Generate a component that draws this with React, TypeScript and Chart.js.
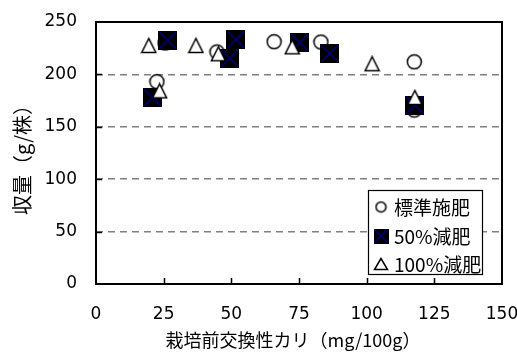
import { useEffect, useRef } from "react";
import { Chart, registerables } from "chart.js";

Chart.register(...registerables);

// Exchangeable potassium before cultivation (mg/100g) vs. yield (g/plant)
const seriesNames = ["標準施肥", "50%減肥", "100%減肥"];

const standardK = [22.5, 25.5, 44.7, 65.8, 83.1, 117.6, 117.6];
const standardYield = [193, 230, 221.4, 231.2, 230.9, 212, 166];

const halfK = [20.9, 26.5, 49.4, 51.7, 75.3, 86.3, 117.8];
const halfYield = [178, 232.6, 215.4, 233.3, 230.5, 220, 170.8];

const noneK = [19.5, 23.5, 36.9, 45.2, 72.5, 102, 117.8];
const noneYield = [227.6, 184.3, 227.6, 219.7, 226.3, 210.2, 178];

const xTickValues = [0, 25, 50, 75, 100, 125, 150];
const yTickValues = [0, 50, 100, 150, 200, 250];

const xTitle = "栽培前交換性カリ（mg/100g）";
const yTitle = "収量（g/株）";

const CJK = "'Noto Sans CJK JP', 'DejaVu Sans', sans-serif";
const NUM = "'DejaVu Sans', sans-serif";

function makeCanvas(w: number, h: number) {
  const c = document.createElement("canvas");
  c.width = w;
  c.height = h;
  return c;
}

function circleMarker(d: number) {
  const size = Math.ceil(d + 3);
  const c = makeCanvas(size, size);
  const g = c.getContext("2d")!;
  g.beginPath();
  g.arc(size / 2, size / 2, d / 2, 0, Math.PI * 2);
  g.fillStyle = "#ffffff";
  g.fill();
  g.lineWidth = 1.5;
  g.strokeStyle = "#000000";
  g.stroke();
  return c;
}

function squareMarker(s: number) {
  const c = makeCanvas(s, s);
  const g = c.getContext("2d")!;
  g.fillStyle = "#000000";
  g.fillRect(0, 0, s, s);
  g.strokeStyle = "#000080";
  g.lineWidth = 1.6;
  g.beginPath();
  g.moveTo(1, 1);
  g.lineTo(s - 1, s - 1);
  g.moveTo(s - 1, 1);
  g.lineTo(1, s - 1);
  g.stroke();
  return c;
}

function triangleMarker(w: number, h: number) {
  const c = makeCanvas(w + 3, h + 3);
  const g = c.getContext("2d")!;
  g.beginPath();
  g.moveTo((w + 3) / 2, 1.5);
  g.lineTo(1.5, h + 1.5);
  g.lineTo(w + 1.5, h + 1.5);
  g.closePath();
  g.fillStyle = "#ffffff";
  g.fill();
  g.lineWidth = 1.5;
  g.strokeStyle = "#000000";
  g.lineJoin = "miter";
  g.stroke();
  return c;
}

function toPoints(xs: number[], ys: number[]) {
  return xs.map((x, i) => ({ x, y: ys[i] }));
}

const decorPlugin = {
  id: "decor",
  beforeDatasetsDraw(chart: any) {
    const { ctx, chartArea: a, scales } = chart;
    ctx.save();
    ctx.strokeStyle = "#000000";
    ctx.lineWidth = 1.5;
    // inward tick marks
    ctx.beginPath();
    xTickValues.slice(1, -1).forEach((v) => {
      const px = Math.round(scales.x.getPixelForValue(v)) + 0.5;
      ctx.moveTo(px, a.bottom);
      ctx.lineTo(px, a.bottom - 6);
    });
    yTickValues.slice(1, -1).forEach((v) => {
      const py = Math.round(scales.y.getPixelForValue(v)) + 0.5;
      ctx.moveTo(a.left, py);
      ctx.lineTo(a.left + 6, py);
    });
    ctx.stroke();
    // plot frame
    ctx.lineWidth = 2;
    ctx.strokeRect(a.left, a.top, a.right - a.left, a.bottom - a.top);
    ctx.restore();
  },
  afterDatasetsDraw(chart: any) {
    const { ctx, chartArea: a } = chart;
    ctx.save();
    // axis titles
    ctx.fillStyle = "#000000";
    ctx.font = `18px ${CJK}`;
    ctx.textAlign = "center";
    ctx.textBaseline = "middle";
    ctx.fillText(xTitle, (a.left + a.right) / 2 - 6, 340);
    ctx.font = `20px ${CJK}`;
    ctx.translate(22, (a.top + a.bottom) / 2 + 2);
    ctx.rotate(-Math.PI / 2);
    ctx.fillText(yTitle, 0, 0);
    ctx.restore();

    // legend box
    const bx = a.right - 134;
    const by = a.bottom - 94;
    const bw = 114;
    const bh = 84;
    ctx.save();
    ctx.fillStyle = "#ffffff";
    ctx.fillRect(bx, by, bw, bh);
    ctx.strokeStyle = "#000000";
    ctx.lineWidth = 1.2;
    ctx.strokeRect(bx + 0.5, by + 0.5, bw, bh);
    const rows = [17, 46, 74];
    chart.data.datasets.forEach((ds: any, i: number) => {
      const img = ds.legendMarker as HTMLCanvasElement;
      const cy = by + rows[i];
      ctx.drawImage(img, bx + 13 - img.width / 2, cy - img.height / 2);
      ctx.fillStyle = "#000000";
      ctx.font = `19px ${CJK}`;
      ctx.textAlign = "left";
      ctx.textBaseline = "middle";
      ctx.fillText(ds.label, bx + 26, cy + 1);
    });
    ctx.restore();
  },
};

export default function App() {
  const ref = useRef<HTMLCanvasElement | null>(null);

  useEffect(() => {
    if (!ref.current) return;
    const chart = new Chart(ref.current, {
      type: "scatter",
      data: {
        datasets: [
          {
            label: seriesNames[0],
            data: toPoints(standardK, standardYield),
            pointStyle: circleMarker(14),
            pointRadius: 8,
            order: 3,
            legendMarker: circleMarker(10),
          } as any,
          {
            label: seriesNames[1],
            data: toPoints(halfK, halfYield),
            pointStyle: squareMarker(19),
            pointRadius: 8,
            order: 2,
            legendMarker: squareMarker(15),
          } as any,
          {
            label: seriesNames[2],
            data: toPoints(noneK, noneYield),
            pointStyle: triangleMarker(14, 14),
            pointRadius: 8,
            order: 1,
            legendMarker: triangleMarker(13, 11),
          } as any,
        ],
      },
      options: {
        responsive: false,
        animation: false,
        events: [],
        layout: { padding: { left: 0, top: 22, right: 15, bottom: 0 } },
        plugins: {
          legend: { display: false },
          tooltip: { enabled: false },
        },
        scales: {
          x: {
            type: "linear",
            min: 0,
            max: 150,
            afterFit: (s: any) => {
              s.height = 68;
              s.paddingLeft = 0;
              s.paddingRight = 0;
              s.paddingTop = 0;
              s.paddingBottom = 0;
            },
            afterBuildTicks: (s: any) => {
              s.ticks = xTickValues.map((v) => ({ value: v }));
            },
            grid: { display: false, drawTicks: false },
            border: { display: false },
            ticks: {
              padding: 20,
              color: "#000000",
              font: { family: NUM, size: 17 },
              maxRotation: 0,
            },
          },
          y: {
            type: "linear",
            min: 0,
            max: 250,
            afterFit: (s: any) => {
              s.width = 96;
              s.paddingLeft = 0;
              s.paddingRight = 0;
              s.paddingTop = 0;
              s.paddingBottom = 0;
            },
            afterBuildTicks: (s: any) => {
              s.ticks = yTickValues.map((v) => ({ value: v }));
            },
            grid: {
              drawTicks: false,
              lineWidth: 1.5,
              color: (c: any) =>
                c.tick && (c.tick.value === 0 || c.tick.value === 250)
                  ? "rgba(0,0,0,0)"
                  : "#808080",
            },
            border: { display: false, dash: [7, 5] },
            ticks: {
              padding: 19,
              color: "#000000",
              font: { family: NUM, size: 17 },
            },
          },
        },
      },
      plugins: [decorPlugin],
    });
    return () => chart.destroy();
  }, []);

  return (
    <div style={{ position: "fixed", left: 0, top: 0, width: 517, height: 352, background: "#ffffff" }}>
      <canvas ref={ref} width={517} height={352} style={{ display: "block" }} />
    </div>
  );
}
